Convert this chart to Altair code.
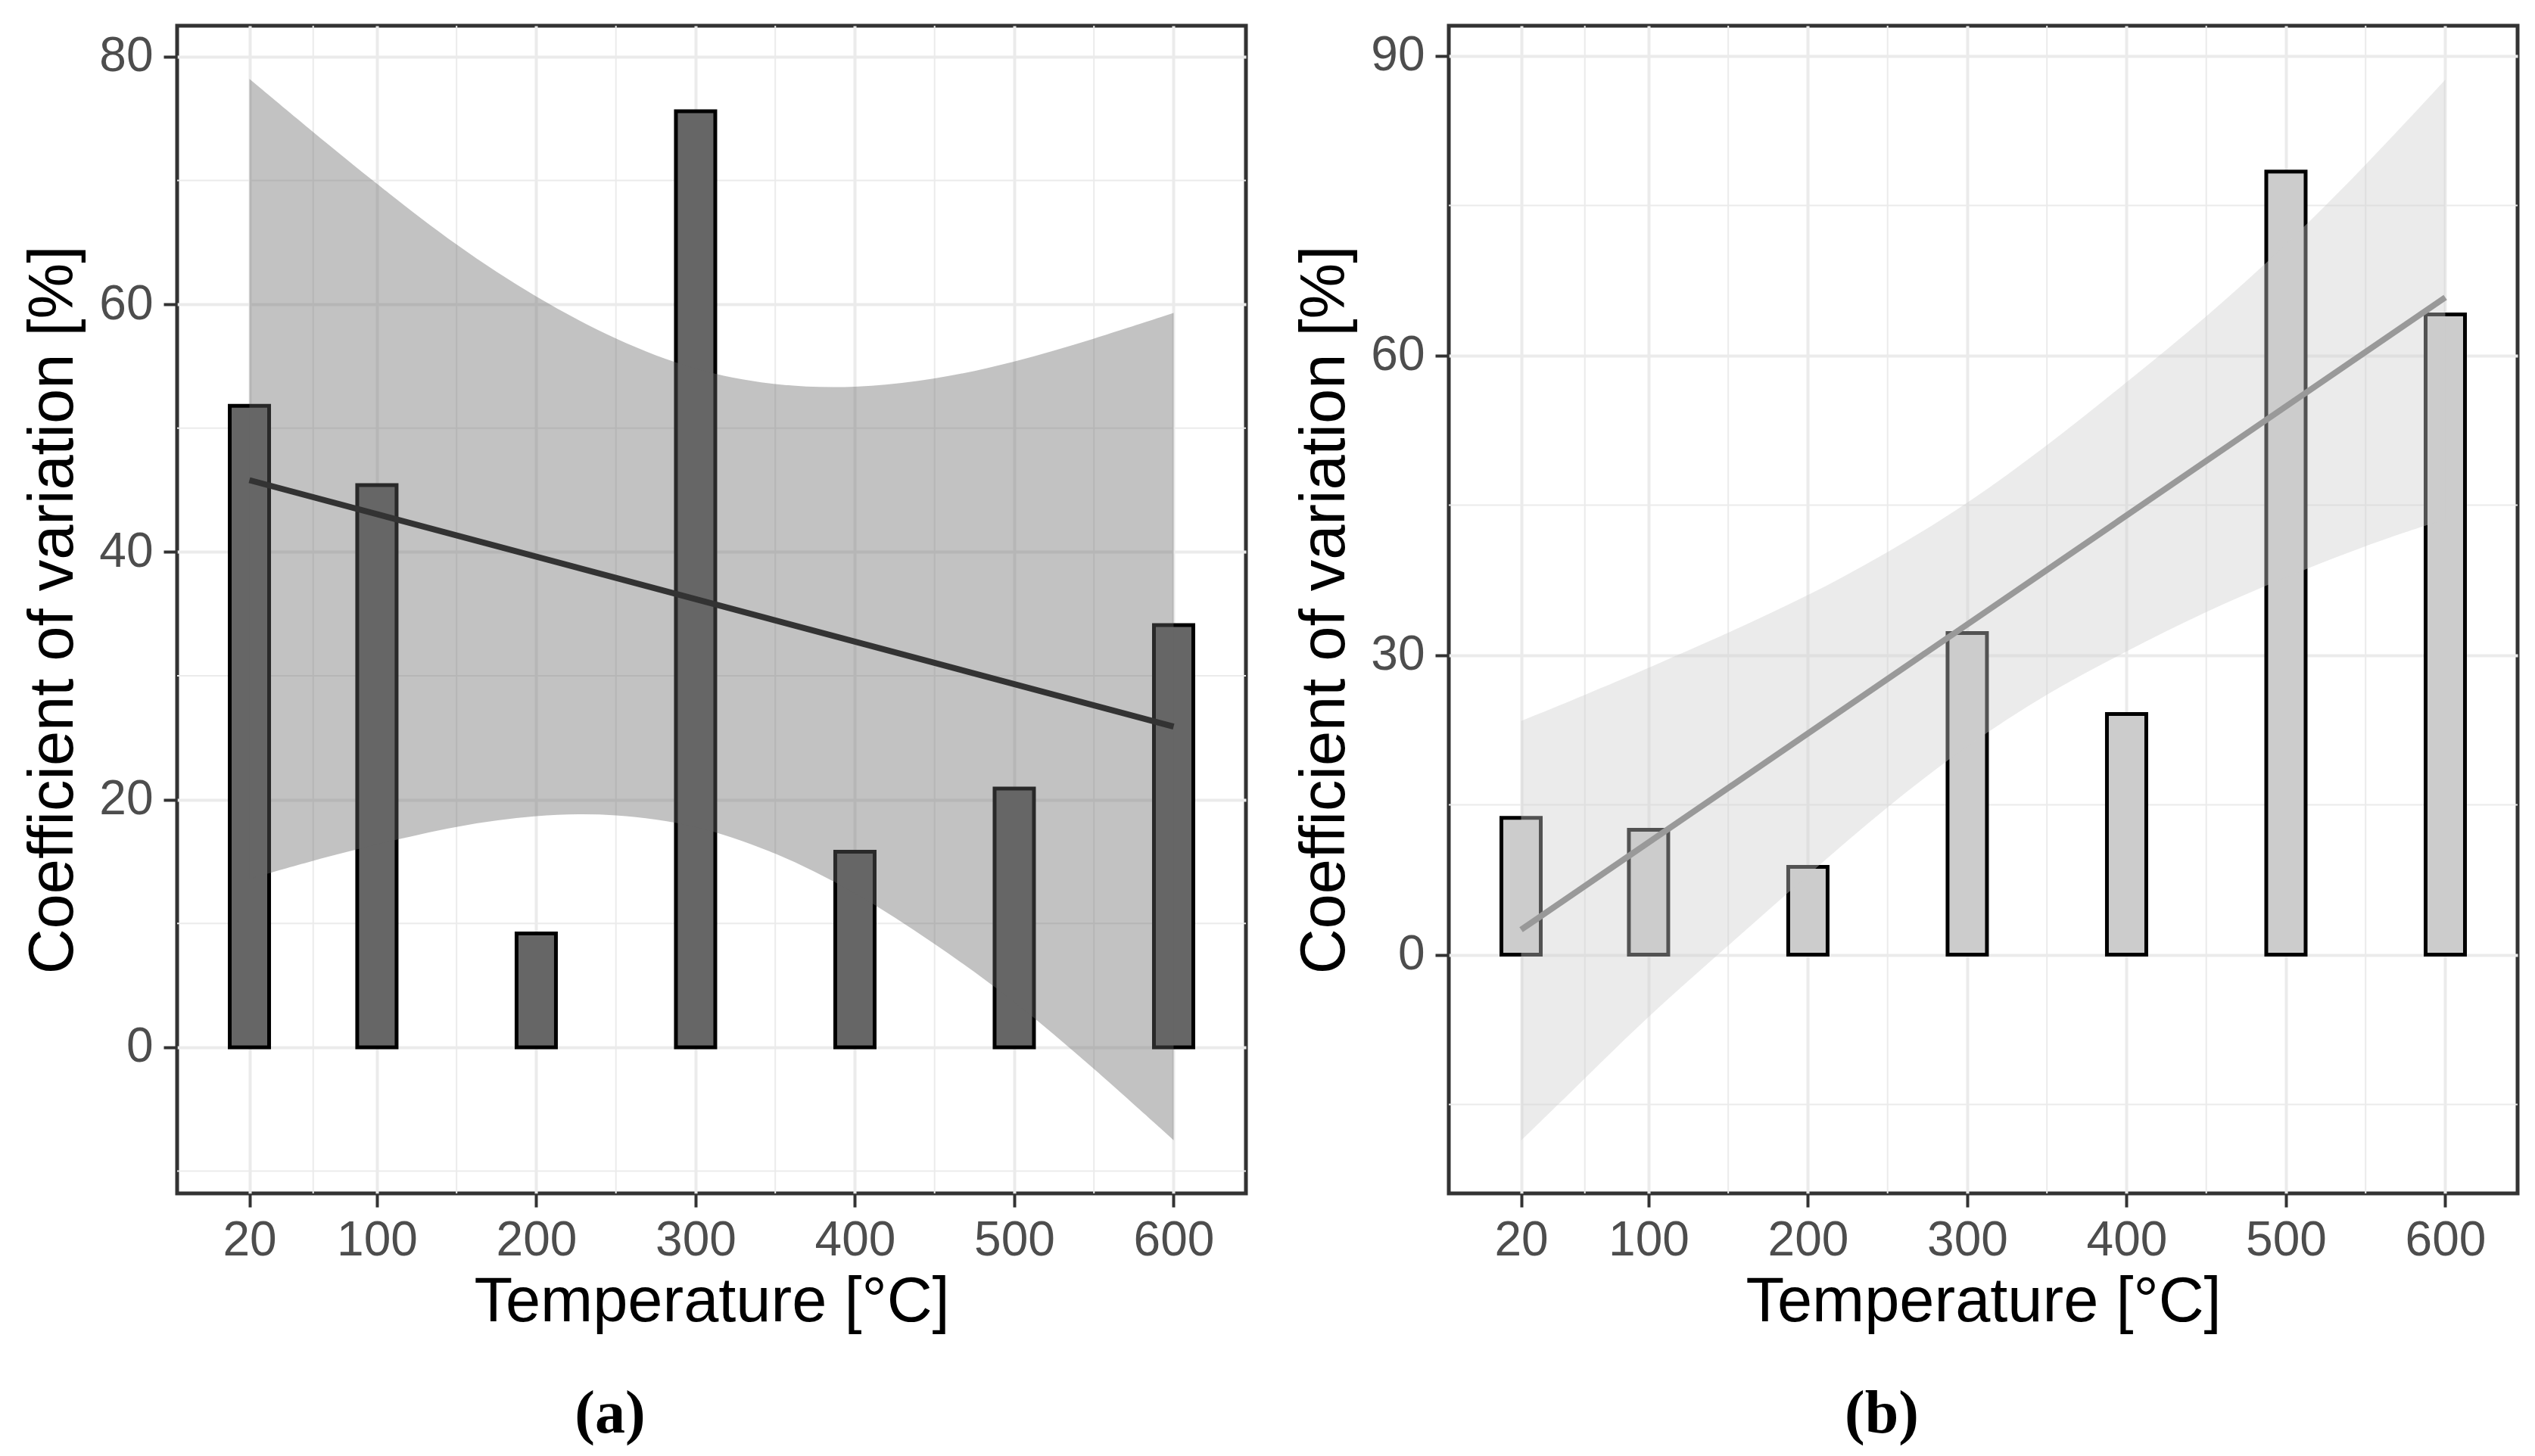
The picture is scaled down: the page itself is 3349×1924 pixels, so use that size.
import altair as alt
import pandas as pd

# ---- data ----
temps = [20, 100, 200, 300, 400, 500, 600]
cv_a = [51.8, 45.4, 9.2, 75.6, 15.8, 20.9, 34.1]
cv_b = [13.7, 12.5, 8.8, 32.2, 24.1, 78.4, 64.1]

band_x = [20, 60, 100, 150, 200, 250, 300, 350, 400, 450, 500, 550, 600]
band_a_upper = [78.2, 73.9, 69.7, 64.7, 60.5, 57.1, 54.6, 53.4, 53.2, 53.9, 55.3, 57.2, 59.3]
band_a_lower = [13.6, 15.1, 16.4, 17.9, 18.8, 18.9, 18.0, 15.8, 12.6, 8.4, 3.8, -1.7, -7.5]
band_b_upper = [23.4, 26.0, 28.7, 32.2, 35.9, 40.2, 45.1, 50.9, 57.3, 63.8, 71.0, 79.0, 87.6]
band_b_lower = [-18.6, -12.4, -6.1, 0.9, 8.0, 14.9, 21.0, 26.2, 30.4, 34.4, 37.8, 41.0, 43.6]

line_x = [20, 600]
line_a = [45.8, 25.9]
line_b = [2.5, 65.8]

x_ticks = [20, 100, 200, 300, 400, 500, 600]
x_minor = [60, 150, 250, 350, 450, 550]
y_ticks_a = [0, 20, 40, 60, 80]
y_minor_a = [-10, 10, 30, 50, 70]
y_ticks_b = [0, 30, 60, 90]
y_minor_b = [-15, 15, 45, 75]


def panel(cv, up, lo, line_y, ydom, yticks, yminor, bar_fill, band_fill, line_color, caption):
    xscale = alt.Scale(domain=[-23, 643], nice=False, zero=False)
    yscale = alt.Scale(domain=ydom, nice=False, zero=False)
    xaxis = alt.Axis(values=x_ticks, title="Temperature [°C]", labelOverlap=False, labelFlush=False)
    yaxis = alt.Axis(values=yticks, title="Coefficient of variation [%]", labelOverlap=False, labelFlush=False)

    bars_df = pd.DataFrame({"t": temps, "v": cv})
    band_df = pd.DataFrame({"t": band_x, "up": up, "lo": lo})
    line_df = pd.DataFrame({"t": line_x, "v": line_y})
    mx_df = pd.DataFrame({"t": x_minor})
    my_df = pd.DataFrame({"v": yminor})

    minor_x = alt.Chart(mx_df).mark_rule(color="#EBEBEB", strokeWidth=2).encode(
        x=alt.X("t:Q", scale=xscale, axis=xaxis)
    )
    minor_y = alt.Chart(my_df).mark_rule(color="#EBEBEB", strokeWidth=2).encode(
        y=alt.Y("v:Q", scale=yscale, axis=yaxis)
    )
    bars = alt.Chart(bars_df).mark_bar(
        size=52, fill=bar_fill, stroke="black", strokeWidth=5
    ).encode(
        x=alt.X("t:Q", scale=xscale, axis=xaxis),
        y=alt.Y("v:Q", scale=yscale, axis=yaxis),
    )
    band = alt.Chart(band_df).mark_area(
        color=band_fill, opacity=0.4, interpolate="basis"
    ).encode(
        x=alt.X("t:Q", scale=xscale, axis=xaxis),
        y=alt.Y("up:Q", scale=yscale, axis=yaxis),
        y2="lo:Q",
    )
    line = alt.Chart(line_df).mark_line(color=line_color, strokeWidth=8).encode(
        x=alt.X("t:Q", scale=xscale, axis=xaxis),
        y=alt.Y("v:Q", scale=yscale, axis=yaxis),
    )
    return alt.layer(minor_x, minor_y, bars, band, line).properties(
        width=1412,
        height=1543,
        title=alt.TitleParams(
            text=caption, orient="bottom", dx=-134, offset=68,
            font="Liberation Serif", fontSize=80, fontWeight="bold", color="black",
        ),
    )


pa = panel(cv_a, band_a_upper, band_a_lower, line_a, [-11.8, 82.5], y_ticks_a, y_minor_a,
           "#666666", "#666666", "#333333", "(a)")
pb = panel(cv_b, band_b_upper, band_b_lower, line_b, [-23.9, 93.0], y_ticks_b, y_minor_b,
           "#CCCCCC", "#CCCCCC", "#999999", "(b)")

chart = alt.hconcat(pa, pb, spacing=57).properties(
    padding={"left": 19, "top": 22, "right": 0, "bottom": 0}
).configure_view(
    stroke="#333333", strokeWidth=5
).configure_axis(
    grid=True, gridColor="#EBEBEB", gridWidth=4,
    domain=False,
    tickColor="#333333", tickWidth=4, tickSize=18,
    labelColor="#4D4D4D", labelFont="Liberation Sans", labelFontSize=64, labelPadding=10,
    titleColor="black", titleFont="Liberation Sans", titleFontSize=83, titleFontWeight="normal",
    titlePadding=14,
).configure_axisX(labelPadding=12, titlePadding=8).configure_axisY(labelPadding=14, titlePadding=18)

chart.save("out.html", embed_options={"renderer": "svg", "actions": False})
